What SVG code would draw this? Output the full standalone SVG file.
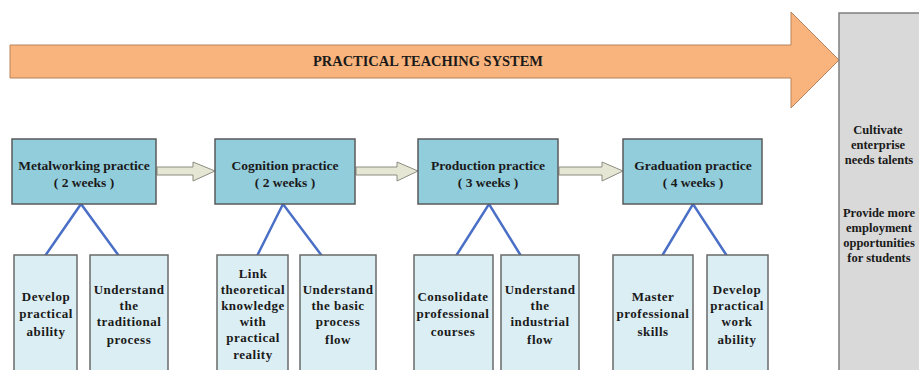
<svg xmlns="http://www.w3.org/2000/svg" width="919" height="370" viewBox="0 0 919 370">
<style>
text{font-family:"Liberation Serif","Times New Roman",serif;font-weight:bold;fill:#1a1a1a;text-anchor:middle}
.main{fill:#92CDDC;stroke:#5a5a5a;stroke-width:1.5}
.sub{fill:#DAEEF3;stroke:#6a6a6a;stroke-width:1.5}
.mt{font-size:13.5px}
.st{font-size:13px;letter-spacing:0.5px}
.gt{font-size:12.5px}
.link{stroke:#4A6FC6;stroke-width:2.5;fill:none}
.flow{fill:#E6E6D4;stroke:#8c8c80;stroke-width:1}
</style>
<rect width="919" height="370" fill="#ffffff"/>
<g id="system-arrow">
<polygon points="10,45 791,45 791,12 839,60 791,108 791,78 10,78" fill="#F8B47C" stroke="#B8825A" stroke-width="1"/>
<text x="428" y="66" font-size="14" fill="#2a1f14" textLength="230" lengthAdjust="spacingAndGlyphs">PRACTICAL TEACHING SYSTEM</text>
</g>
<g id="outcome">
<rect x="839" y="13" width="90" height="370" fill="#D9D9D9" stroke="#7f7f7f" stroke-width="1.5"/>
<text class="gt" x="878" y="134">Cultivate</text>
<text class="gt" x="878" y="149">enterprise</text>
<text class="gt" x="879" y="164">needs talents</text>
<text class="gt" x="879" y="217">Provide more</text>
<text class="gt" x="879" y="232">employment</text>
<text class="gt" x="879" y="247">opportunities</text>
<text class="gt" x="879" y="262">for students</text>
</g>
<g id="connectors">
<polygon class="flow" points="157,167 193,167 193,162 215,171 193,181 193,175 157,175"/>
<polygon class="flow" points="356,167 397,167 397,162 418,171 397,181 397,175 356,175"/>
<polygon class="flow" points="559,167 602,167 602,162 623,171 602,181 602,175 559,175"/>
<polyline class="link" points="45,256 81,204 119,256"/>
<polyline class="link" points="257,256 283,204 322,256"/>
<polyline class="link" points="456,256 489,204 521,256"/>
<polyline class="link" points="662,256 693,204 727,256"/>
</g>
<g id="metalworking">
<rect class="main" x="12" y="139" width="144" height="65"/>
<text class="mt" x="84" y="170">Metalworking practice</text>
<text class="mt" x="84" y="187">( 2 weeks )</text>
</g>
<g id="cognition">
<rect class="main" x="215" y="139" width="140" height="65"/>
<text class="mt" x="285" y="170">Cognition practice</text>
<text class="mt" x="285" y="187">( 2 weeks )</text>
</g>
<g id="production">
<rect class="main" x="418" y="139" width="140" height="65"/>
<text class="mt" x="488" y="170">Production practice</text>
<text class="mt" x="488" y="187">( 3 weeks )</text>
</g>
<g id="graduation">
<rect class="main" x="623" y="139" width="139" height="65"/>
<text class="mt" x="693" y="170">Graduation practice</text>
<text class="mt" x="693" y="187">( 4 weeks )</text>
</g>
<g id="develop-practical-ability">
<rect class="sub" x="14" y="255" width="63" height="130"/>
<text class="st" x="46" y="301">Develop</text>
<text class="st" x="46" y="318">practical</text>
<text class="st" x="46" y="336">ability</text>
</g>
<g id="understand-traditional-process">
<rect class="sub" x="90" y="255" width="78" height="130"/>
<text class="st" x="129" y="294">Understand</text>
<text class="st" x="129" y="310">the</text>
<text class="st" x="129" y="326">traditional</text>
<text class="st" x="129" y="344">process</text>
</g>
<g id="link-theory">
<rect class="sub" x="217" y="255" width="71" height="130"/>
<text class="st" x="253" y="278">Link</text>
<text class="st" x="253" y="294">theoretical</text>
<text class="st" x="253" y="310">knowledge</text>
<text class="st" x="253" y="326">with</text>
<text class="st" x="253" y="342">practical</text>
<text class="st" x="253" y="359">reality</text>
</g>
<g id="understand-basic-flow">
<rect class="sub" x="300" y="255" width="76" height="130"/>
<text class="st" x="338" y="294">Understand</text>
<text class="st" x="338" y="310">the basic</text>
<text class="st" x="338" y="326">process</text>
<text class="st" x="338" y="344">flow</text>
</g>
<g id="consolidate-courses">
<rect class="sub" x="414" y="255" width="79" height="130"/>
<text class="st" x="453" y="301">Consolidate</text>
<text class="st" x="453" y="318">professional</text>
<text class="st" x="453" y="336">courses</text>
</g>
<g id="understand-industrial-flow">
<rect class="sub" x="501" y="255" width="78" height="130"/>
<text class="st" x="540" y="294">Understand</text>
<text class="st" x="540" y="310">the</text>
<text class="st" x="540" y="326">industrial</text>
<text class="st" x="540" y="344">flow</text>
</g>
<g id="master-skills">
<rect class="sub" x="613" y="255" width="80" height="130"/>
<text class="st" x="653" y="301">Master</text>
<text class="st" x="653" y="318">professional</text>
<text class="st" x="653" y="336">skills</text>
</g>
<g id="develop-work-ability">
<rect class="sub" x="707" y="255" width="61" height="130"/>
<text class="st" x="737" y="294">Develop</text>
<text class="st" x="737" y="310">practical</text>
<text class="st" x="737" y="326">work</text>
<text class="st" x="737" y="344">ability</text>
</g>
</svg>
